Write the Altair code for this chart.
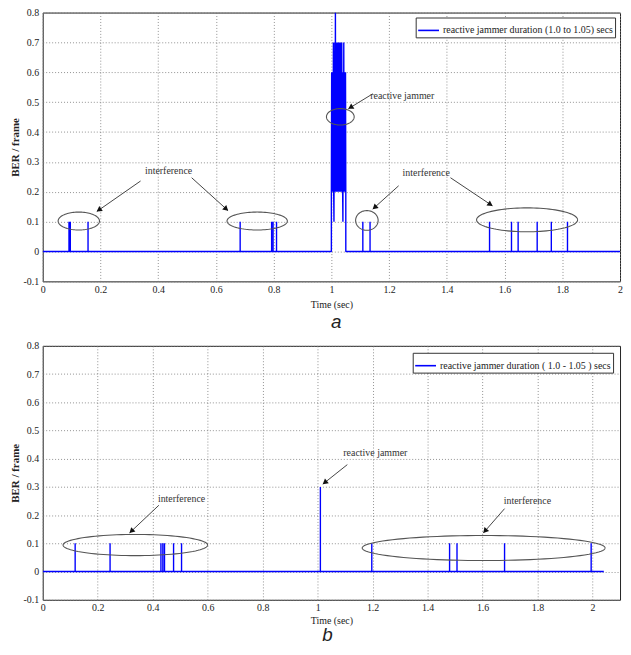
import math
import numpy as np
import pandas as pd
import altair as alt

# ---------------- data ----------------
SERIES_A = "reactive jammer duration (1.0 to 1.05) secs"
SERIES_B = "reactive jammer duration ( 1.0 - 1.05 ) secs"

x_ticks = [0, 0.2, 0.4, 0.6, 0.8, 1.0, 1.2, 1.4, 1.6, 1.8, 2.0]
y_ticks = [-0.1, 0, 0.1, 0.2, 0.3, 0.4, 0.5, 0.6, 0.7, 0.8]

# panel a: interference spikes (time, BER)
a_spike_t = [0.091, 0.0955, 0.157, 0.684, 0.793, 0.798, 0.810,
             1.109, 1.134, 1.548, 1.624, 1.647, 1.713, 1.762, 1.818]
a_spike_v = [0.1, 0.1, 0.1, 0.1, 0.1, 0.1, 0.1,
             0.1, 0.1, 0.1, 0.1, 0.1, 0.1, 0.1, 0.1]
# panel a: reactive jammer frames (1.0 .. 1.05 s)
a_jam_t = [1.000, 1.001, 1.002, 1.003, 1.004, 1.005, 1.006, 1.007, 1.008, 1.009,
           1.010, 1.011, 1.012, 1.013, 1.014, 1.015, 1.016, 1.017, 1.018, 1.019,
           1.020, 1.021, 1.022, 1.023, 1.024, 1.025, 1.026, 1.027, 1.028, 1.029,
           1.030, 1.031, 1.032, 1.033, 1.034, 1.035, 1.036, 1.037, 1.038, 1.039,
           1.040, 1.041, 1.042, 1.043, 1.044, 1.045, 1.046, 1.047, 1.048, 1.049,
           1.050]
a_jam_v = [0.2, 0.6, 0.2, 0.6, 0.3, 0.6, 0.2, 0.7, 0.2, 0.1,
           0.6, 0.2, 0.7, 0.3, 0.8, 0.2, 0.7, 0.2, 0.6, 0.3,
           0.7, 0.2, 0.6, 0.2, 0.7, 0.3, 0.6, 0.2, 0.7, 0.2,
           0.6, 0.3, 0.7, 0.2, 0.6, 0.2, 0.7, 0.3, 0.6, 0.2,
           0.1, 0.6, 0.2, 0.7, 0.2, 0.6, 0.3, 0.6, 0.2, 0.6,
           0.2]
a_end = 2.0

# panel b
b_spike_t = [0.118, 0.245, 0.430, 0.437, 0.443, 0.476, 0.505,
             1.010, 1.197, 1.480, 1.507, 1.680, 1.995]
b_spike_v = [0.1, 0.1, 0.1, 0.1, 0.1, 0.1, 0.1,
             0.3, 0.1, 0.1, 0.1, 0.1, 0.1]
b_end = 2.041

# annotations: ellipses (centre, radii in data units)
a_ell_cx = [0.125, 0.743, 1.031, 1.123, 1.678]
a_ell_cy = [0.102, 0.102, 0.451, 0.104, 0.106]
a_ell_rx = [0.0716, 0.1045, 0.048, 0.039, 0.175]
a_ell_ry = [0.030, 0.030, 0.0275, 0.033, 0.040]
b_ell_cx = [0.337, 1.604]
b_ell_cy = [0.094, 0.0835]
b_ell_rx = [0.263, 0.442]
b_ell_ry = [0.0375, 0.0444]

# annotations: labels
a_txt = ["interference", "reactive jammer", "interference"]
a_txt_x = [0.436, 1.2455, 1.3285]
a_txt_y = [0.269, 0.522, 0.264]
b_txt = ["interference", "reactive jammer", "interference"]
b_txt_x = [0.505, 1.21, 1.763]
b_txt_y = [0.258, 0.419, 0.250]

# annotations: arrows (start -> end)
a_arr_x1 = [0.339, 0.516, 1.1435, 1.233, 1.4126]
a_arr_y1 = [0.236, 0.247, 0.528, 0.220, 0.247]
a_arr_x2 = [0.1875, 0.642, 1.059, 1.1435, 1.558]
a_arr_y2 = [0.134, 0.137, 0.478, 0.142, 0.153]
b_arr_x1 = [0.4225, 1.108, 1.68]
b_arr_y1 = [0.235, 0.379, 0.223]
b_arr_x2 = [0.316, 1.019, 1.603]
b_arr_y2 = [0.137, 0.310, 0.137]

BLUE = "#0000ff"
SERIF = "Liberation Serif"
W = 582
H_A = 271
H_B = 256


def line_table(spike_t, spike_v, jam_t, jam_v, t_end, label):
    segs = []
    for t, v in zip(spike_t, spike_v):
        segs.append([(t, 0.0), (t, v), (t, 0.0)])
    if jam_t:
        segs.append([(jam_t[0], 0.0)] + list(zip(jam_t, jam_v)) + [(jam_t[-1], 0.0)])
    segs.sort(key=lambda s: s[0][0])
    pts = [(0.0, 0.0)] + [p for s in segs for p in s] + [(t_end, 0.0)]
    df = pd.DataFrame(pts, columns=["t", "v"])
    df["idx"] = range(len(df))
    df["series"] = label
    return df


def ellipse_table(cx, cy, rx, ry):
    rows = []
    th = np.linspace(0, 2 * np.pi, 97)
    for e, (x0, y0, a, b) in enumerate(zip(cx, cy, rx, ry)):
        for k, ang in enumerate(th):
            rows.append({"eid": e, "k": k, "t": x0 + a * np.cos(ang), "v": y0 + b * np.sin(ang)})
    return pd.DataFrame(rows)


def arrow_tables(x1, y1, x2, y2, sx, sy, back=2.5):
    lines = pd.DataFrame({"x1": x1, "y1": y1, "x2": x2, "y2": y2})
    heads = []
    for a, b, c, d in zip(x1, y1, x2, y2):
        dx = (c - a) * sx
        dy = -(d - b) * sy
        n = math.hypot(dx, dy)
        ux, uy = dx / n, dy / n
        ang = math.degrees(math.atan2(ux, -uy)) % 360
        heads.append({"t": c - ux * back / sx, "v": d + uy * back / sy, "ang": ang})
    return lines, pd.DataFrame(heads)


def panel(line_df, ell_df, arr_lines, arr_heads, txt_df, label, xmax, height,
          leg_off, letter, title_dx, title_off, xtitle_pad):
    xs = alt.Scale(domain=[0, xmax], nice=False, zero=False)
    ys = alt.Scale(domain=[-0.1, 0.8], nice=False, zero=False)
    xax = alt.Axis(values=x_ticks, title="Time (sec)", labelExpr="format(datum.value, '~g')",
                   grid=True, labelPadding=3, titlePadding=xtitle_pad, labelFlush=False,
                   labelOverlap=False)
    yax = alt.Axis(values=y_ticks, title="BER / frame",
                   labelExpr="datum.value < 0 ? '-' + format(-datum.value, '~g') : format(datum.value, '~g')",
                   grid=True, labelPadding=4, titlePadding=3, titleFontWeight="bold",
                   titleFontSize=11, labelOverlap=False, labelFlush=False)

    def X(f):
        return alt.X(f, scale=xs, axis=xax)

    def Y(f):
        return alt.Y(f, scale=ys, axis=yax)

    line = alt.Chart(line_df).mark_line(strokeWidth=1.4, clip=True, strokeJoin="bevel").encode(
        x=X("t:Q"), y=Y("v:Q"),
        order="idx:Q",
        color=alt.Color("series:N",
                        scale=alt.Scale(domain=[label], range=[BLUE]),
                        legend=alt.Legend(title=None, orient="top-right", offset=leg_off,
                                          symbolType="stroke", symbolSize=441,
                                          symbolStrokeWidth=1.6, labelFont=SERIF,
                                          labelFontSize=10, labelLimit=400, labelColor="#222",
                                          strokeColor="#333", fillColor="white", padding=1.5,
                                          labelOffset=3)),
    )
    ell = alt.Chart(ell_df).mark_line(color="#555", strokeWidth=1.1).encode(
        x=X("t:Q"), y=Y("v:Q"), detail="eid:N", order="k:Q")
    arr = alt.Chart(arr_lines).mark_rule(color="#444", strokeWidth=1).encode(
        x=X("x1:Q"), y=Y("y1:Q"), x2="x2:Q", y2="y2:Q")
    heads = alt.Chart(arr_heads).mark_point(shape="triangle-up", filled=True, color="#111",
                                            size=38, opacity=1).encode(
        x=X("t:Q"), y=Y("v:Q"), angle=alt.Angle("ang:Q", scale=None))
    txt = alt.Chart(txt_df).mark_text(font=SERIF, fontSize=10, color="#333",
                                      align="center", baseline="middle").encode(
        x=X("t:Q"), y=Y("v:Q"), text="label:N")

    return alt.layer(line, ell, arr, heads, txt).properties(
        width=W, height=height,
        title=alt.TitleParams(letter, orient="bottom", anchor="middle", font="Liberation Sans",
                              fontStyle="italic", fontSize=19, fontWeight="normal",
                              color="#222", offset=title_off, dx=title_dx),
    )


sx_a, sy_a = W / 2.0, H_A / 0.9
sx_b, sy_b = W / 2.1, H_B / 0.9

la, ha = arrow_tables(a_arr_x1, a_arr_y1, a_arr_x2, a_arr_y2, sx_a, sy_a)
lb, hb = arrow_tables(b_arr_x1, b_arr_y1, b_arr_x2, b_arr_y2, sx_b, sy_b)

top = panel(line_table(a_spike_t, a_spike_v, a_jam_t, a_jam_v, a_end, SERIES_A),
            ellipse_table(a_ell_cx, a_ell_cy, a_ell_rx, a_ell_ry), la, ha,
            pd.DataFrame({"label": a_txt, "t": a_txt_x, "v": a_txt_y}),
            SERIES_A, 2.0, H_A, 5, "a", 5, 4, 5)
bottom = panel(line_table(b_spike_t, b_spike_v, [], [], b_end, SERIES_B),
               ellipse_table(b_ell_cx, b_ell_cy, b_ell_rx, b_ell_ry), lb, hb,
               pd.DataFrame({"label": b_txt, "t": b_txt_x, "v": b_txt_y}),
               SERIES_B, 2.1, H_B, 7, "b", -4, 1, 3)

chart = alt.vconcat(top, bottom, spacing=7).resolve_scale(
    x="independent", y="independent", color="independent"
).properties(
    padding={"left": 0, "top": -4, "right": 0, "bottom": -3}
).configure_view(stroke="#222", strokeWidth=1).configure_axis(
    labelFont=SERIF, labelFontSize=10, labelColor="#222",
    titleFont=SERIF, titleFontSize=10, titleColor="#222", titleFontWeight="normal",
    gridColor="#777", gridDash=[1, 2], gridWidth=0.8, domain=False, ticks=False,
).configure_legend(labelFont=SERIF)

chart.save("out.html", embed_options={"renderer": "svg", "actions": False})
